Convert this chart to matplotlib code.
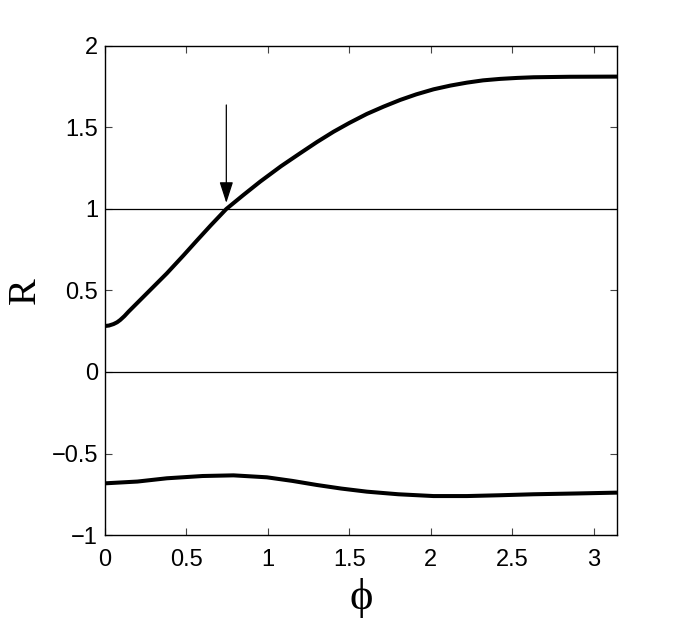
import matplotlib.pyplot as plt
import numpy as np

# upper branch of R(phi)
phi_up = [0.0, 0.025, 0.053, 0.075, 0.094, 0.12, 0.145, 0.18, 0.217, 0.298, 0.38, 0.482,
          0.564, 0.65, 0.745, 0.85, 0.953, 1.08, 1.198, 1.30, 1.403, 1.50, 1.607, 1.71,
          1.812, 1.91, 2.016, 2.12, 2.221, 2.32, 2.425, 2.53, 2.63, 2.85, 3.1416]
r_up = [0.282, 0.285, 0.294, 0.305, 0.319, 0.343, 0.37, 0.405, 0.442, 0.523, 0.605, 0.715,
        0.806, 0.90, 1.0, 1.086, 1.168, 1.262, 1.342, 1.41, 1.474, 1.528, 1.583, 1.628,
        1.669, 1.703, 1.734, 1.757, 1.775, 1.789, 1.798, 1.804, 1.808, 1.811, 1.812]

# lower branch
phi_low = [0.0, 0.2, 0.38, 0.6, 0.789, 0.994, 1.15, 1.3, 1.45, 1.607, 1.8, 2.016, 2.221,
           2.425, 2.63, 2.9, 3.1416]
r_low = [-0.683, -0.672, -0.652, -0.638, -0.634, -0.646, -0.668, -0.693, -0.715, -0.734,
         -0.750, -0.761, -0.761, -0.756, -0.750, -0.745, -0.740]

arrow_x = 0.745
arrow_from = 1.638
arrow_to = 1.037

fig = plt.figure(figsize=(6.81, 6.27), dpi=100)
ax = fig.add_axes([0.154, 0.1467, 0.752, 0.78])

ax.plot(phi_up, r_up, color='black', lw=2.9, solid_capstyle='butt', solid_joinstyle='round')
ax.plot(phi_low, r_low, color='black', lw=2.9, solid_capstyle='butt', solid_joinstyle='round')
ax.axhline(1, color='black', lw=0.9)
ax.axhline(0, color='black', lw=0.9)

ax.annotate('', xy=(arrow_x, arrow_to), xytext=(arrow_x, arrow_from),
            arrowprops=dict(arrowstyle='-|>,head_length=1.3,head_width=0.42',
                            color='black', lw=0.9, shrinkA=0, shrinkB=0))

ax.set_xlim(0, np.pi)
ax.set_ylim(-1, 2)
ax.set_xticks([0, 0.5, 1, 1.5, 2, 2.5, 3])
ax.set_xticklabels(['0', '0.5', '1', '1.5', '2', '2.5', '3'])
ax.set_yticks([-1, -0.5, 0, 0.5, 1, 1.5, 2])
ax.set_yticklabels(['\u22121', '\u22120.5', '0', '0.5', '1', '1.5', '2'])

for lab in ax.get_xticklabels() + ax.get_yticklabels():
    lab.set_family('Liberation Sans')
    lab.set_fontsize(17)

ax.tick_params(direction='in', length=5, width=0.8, color='#444444',
               top=True, right=True)
ax.tick_params(axis='x', pad=10)
ax.tick_params(axis='y', pad=5)
for s in ax.spines.values():
    s.set_linewidth(1.0)

fig.text(0.037, 0.537, 'R', family='Liberation Serif', fontsize=29,
         rotation=90, ha='center', va='center')
fig.text(0.530, 0.047, '\u03d5', family='Liberation Serif', fontsize=32,
         ha='center', va='center')

fig.savefig('out.png', dpi=100)
